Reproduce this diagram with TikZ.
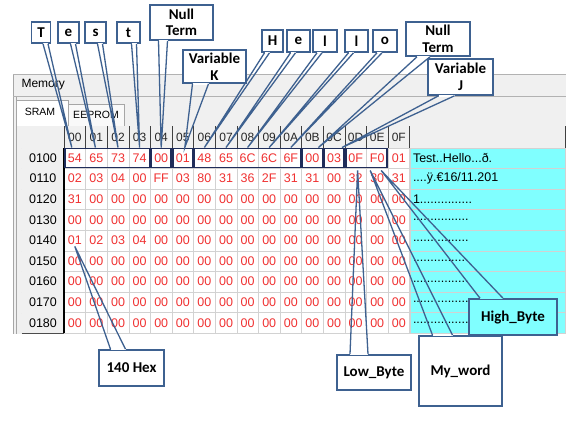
\documentclass[tikz,border=0pt]{standalone}
\usepackage{fontspec}
\setmainfont{Liberation Sans}
\newfontfamily\calloutfont{Carlito}

\definecolor{hexred}{HTML}{F03232}
\definecolor{panelgray}{HTML}{F0F0F0}
\definecolor{gridgray}{HTML}{D2D2D2}
\definecolor{asciicyan}{HTML}{80FFFF}
\definecolor{noteblue}{HTML}{3E6190}
\definecolor{framenavy}{HTML}{1F2D5A}

\tikzset{
  hexcell/.style={draw=gridgray, fill=white, minimum width=21.6pt, minimum height=20.6pt, inner sep=0pt, text=hexred, font=\fontsize{12.5}{13}\selectfont},
  rowhead/.style={fill=panelgray, minimum width=42pt, minimum height=20.6pt, inner sep=0pt, font=\fontsize{12.5}{13}\selectfont},
  colhead/.style={fill=panelgray, minimum width=21.6pt, minimum height=21.2pt, inner sep=0pt, text=black!85, font=\fontsize{12}{13}\selectfont},
  asciicell/.style={draw=gridgray, fill=asciicyan, minimum height=20.6pt, text width=149pt, inner xsep=3pt, inner ysep=0pt, align=left, font=\fontsize{12.5}{13}\selectfont},
  groupframe/.style={draw=framenavy, line width=1.8pt},
  note/.style={draw=noteblue, line width=1.6pt, fill=white, inner sep=0pt, align=center, font=\calloutfont\bfseries\fontsize{15}{16.5}\selectfont},
  notewedge/.style={draw=noteblue, line width=1.3pt, line join=miter},
}

% wedge of a callout: [gap colour]{node}{side}{base from}{base to}{tip}
\newcommand{\pointto}[6][white]{%
  \draw[#1, line width=2.4pt] ([xshift=#4]#2.#3) -- ([xshift=#5]#2.#3);
  \draw[notewedge] ([xshift=#4]#2.#3) -- (#6) -- ([xshift=#5]#2.#3);
}

\begin{document}
\begin{tikzpicture}[x=1pt,y=-1pt]
  \useasboundingbox (0,0) rectangle (569,421);
  \fill[white] (0,0) rectangle (569,421);

  % Memory window
  \fill[panelgray] (13,74) rectangle (566,334);
  \draw[gray!70] (13,74) -- (13,334);
  \draw[gray!70] (16,96) -- (16,334);
  \draw[gray!60] (13,74.5) -- (566,74.5);
  \draw[gray!60] (13,96) -- (566,96);
  \node[anchor=west, font=\fontsize{12}{13}\selectfont] (memtitle) at (18,85) {Memory};

  % Tabs
  \draw[gray!70, fill=white] (16,126) -- (16,100) -- (68,100) -- (68,126);
  \node[font=\fontsize{10.5}{12}\selectfont] (sram) at (40,112) {SRAM};
  \draw[gray!70, fill=gray!5] (68,126) -- (68,104) -- (124,104) -- (124,126);
  \node[font=\fontsize{10.5}{12}\selectfont] (eeprom) at (96,114.5) {EEPROM};

  % Column headers
  \node[colhead, minimum width=42pt] (h-corner) at (43,137.1) {};
  \foreach \lab [count=\j from 0] in {00,01,02,03,04,05,06,07,08,09,0A,0B,0C,0D,0E,0F}
    \node[colhead] (h-\j) at ({74.8+21.6*\j},137.1) {\lab};
  \node[colhead, minimum width=155pt] (h-ascii) at (487.5,137.1) {};
  \foreach \k in {corner,0,1,2,3,4,5,6,7,8,9,10,11,12,13,14,15,ascii}
    \draw[black!75, line width=1pt] (h-\k.north east) -- (h-\k.south east);
  \draw[black!75] (h-corner.south west) -- (h-ascii.south east);

  % Memory rows
  \foreach \addr/\vals/\txt [count=\i from 0] in {
    0100/{54,65,73,74,00,01,48,65,6C,6C,6F,00,03,0F,F0,01}/{Test..Hello...ð.},
    0110/{02,03,04,00,FF,03,80,31,36,2F,31,31,00,32,30,31}/{....ÿ.€16/11.201},
    0120/{31,00,00,00,00,00,00,00,00,00,00,00,00,00,00,00}/{1...............},
    0130/{00,00,00,00,00,00,00,00,00,00,00,00,00,00,00,00}/{................},
    0140/{01,02,03,04,00,00,00,00,00,00,00,00,00,00,00,00}/{................},
    0150/{00,00,00,00,00,00,00,00,00,00,00,00,00,00,00,00}/{................},
    0160/{00,00,00,00,00,00,00,00,00,00,00,00,00,00,00,00}/{................},
    0170/{00,00,00,00,00,00,00,00,00,00,00,00,00,00,00,00}/{................},
    0180/{00,00,00,00,00,00,00,00,00,00,00,00,00,00,00,00}/{................}} {
    \node[rowhead] (r-\i) at (43,{158+20.6*\i}) {\addr};
    \draw[black!70] (r-\i.south west) -- (r-\i.south east);
    \foreach \v [count=\j from 0] in \vals
      \node[hexcell] (c-\i-\j) at ({74.8+21.6*\j},{158+20.6*\i}) {\v};
    \draw[black, line width=1.5pt] (r-\i.north east) -- (r-\i.south east);
    \node[asciicell] (a-\i) at (487.5,{158+20.6*\i}) {\txt};
  }

  % Variable frames in row 0100
  \foreach \a/\b in {0/3,4/4,5/5,6/10,11/11,12/12,13/14}
    \draw[groupframe] ([shift={(1,1)}]c-0-\a.north west) rectangle ([shift={(-1,-1)}]c-0-\b.south east);

  % Callouts above
  \node[note, minimum width=19pt, minimum height=21pt] (nT) at (41,32.5) {T};
  \pointto{nT}{south}{2}{7}{[xshift=-3]c-0-0.north}
  \node[note, minimum width=21pt, minimum height=21pt] (nE) at (68.5,32.5) {e};
  \pointto{nE}{south}{2}{7}{[xshift=-1]c-0-1.north}
  \node[note, minimum width=21pt, minimum height=21pt] (nS) at (95.5,32.5) {s};
  \pointto{nS}{south}{2}{7}{c-0-2.north}
  \node[note, minimum width=23pt, minimum height=21pt] (nTt) at (128.5,32.5) {t};
  \pointto{nTt}{south}{3}{8}{c-0-3.north}
  \node[note, minimum width=63pt, minimum height=35pt] (nullA) at (181.5,22.5) {Null\\Term};
  \pointto{nullA}{south}{-23}{-14}{c-0-4.north}
  \node[note, minimum width=63pt, minimum height=33pt] (varK) at (214.5,66.5) {Variable\\K};
  \pointto{varK}{south}{-22}{-6}{[xshift=2]c-0-5.north}
  \node[note, minimum width=21pt, minimum height=22pt] (nH) at (272.5,41) {H};
  \pointto{nH}{south}{-8}{-3}{c-0-6.north}
  \node[note, minimum width=23pt, minimum height=22pt] (nE2) at (298.5,41) {e};
  \pointto{nE2}{south}{-8}{-3}{c-0-7.north}
  \node[note, minimum width=24pt, minimum height=22pt] (nL) at (325,41) {l};
  \pointto{nL}{south}{-8}{-3}{c-0-8.north}
  \node[note, minimum width=23pt, minimum height=22pt] (nL2) at (356.5,41) {l};
  \pointto{nL2}{south}{-8}{-3}{c-0-9.north}
  \node[note, minimum width=24pt, minimum height=22pt] (nO) at (385,41) {o};
  \pointto{nO}{south}{-8}{-3}{c-0-10.north}
  \node[note, minimum width=64pt, minimum height=34pt] (nullB) at (438,39) {Null\\Term};
  \pointto{nullB}{south}{-21}{-8}{[xshift=6]c-0-11.north}
  \node[note, minimum width=65pt, minimum height=36pt] (varJ) at (460.5,77) {Variable\\J};
  \pointto{varJ}{south}{-22}{-6}{[xshift=8]c-0-12.north}

  % Callouts below
  \node[note, minimum width=65pt, minimum height=36pt] (hex140) at (131.5,368) {140 Hex};
  \pointto{hex140}{north}{-21}{-6}{[yshift=-6]c-4-0.center}
  \node[note, minimum width=74pt, minimum height=35pt] (lowbyte) at (374,372.5) {Low\_Byte};
  \pointto{lowbyte}{north}{-24}{-6}{[xshift=2,yshift=-2]c-0-13.south}
  \node[note, minimum width=83pt, minimum height=70pt] (myword) at (460.5,371) {My\_word};
  \pointto{myword}{north}{-28}{-8}{[xshift=-7,yshift=-2]c-0-14.south}
  \node[note, fill=asciicyan, minimum width=88pt, minimum height=36pt] (highbyte) at (513,317) {High\_Byte};
  \pointto[asciicyan]{highbyte}{north}{-33}{-10}{[xshift=4,yshift=-2]c-0-14.south}
\end{tikzpicture}
\end{document}
